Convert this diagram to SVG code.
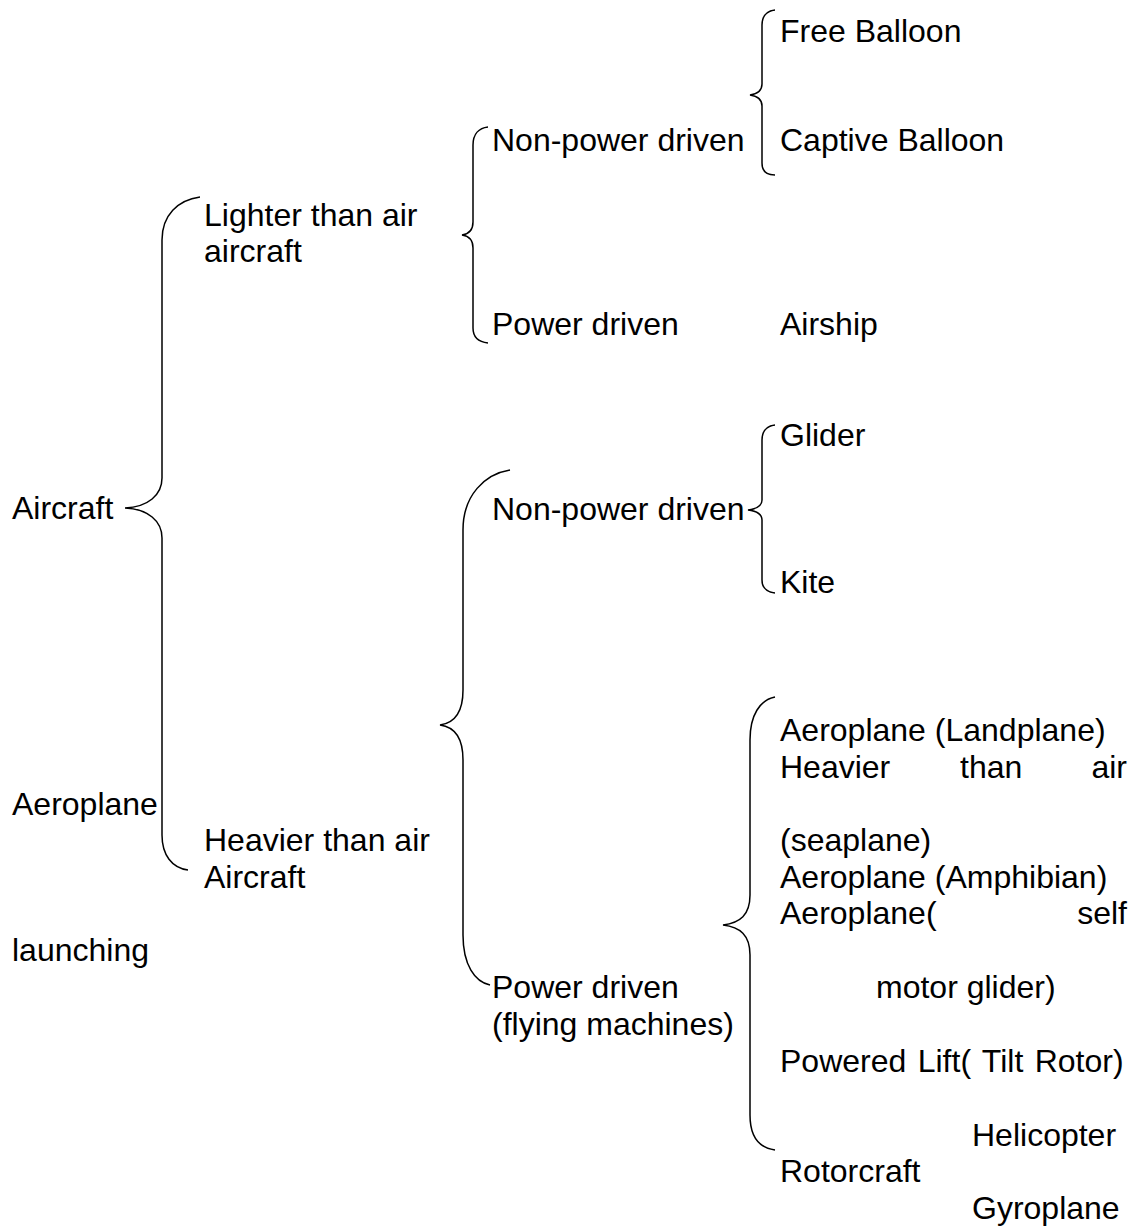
<svg xmlns="http://www.w3.org/2000/svg" width="1139" height="1229" viewBox="0 0 1139 1229">
<style>
text{font-family:"Liberation Sans",Arial,sans-serif;font-size:32px;fill:#000}
.b{fill:none;stroke:#000;stroke-width:1.5}
</style>
<rect width="1139" height="1229" fill="#fff"/>
<g id="connectors">
<path class="b" d="M200,197 C178,200 162,215 162,240 L162,478 C162,495 148,507 125,508 C148,509 162,521 162,538 L162,835 C162,855 172,868 188,870"/>
<path class="b" d="M488,127 C479,128 473,134 473,145 L473,222 C473,230 469,234 462,235 C469,236 473,240 473,248 L473,328 C473,337 479,342 488,343"/>
<path class="b" d="M775,10 C767,11 762,16 762,25 L762,84 C762,91 757,94 750,95 C757,96 762,99 762,106 L762,163 C762,171 767,175 775,175"/>
<path class="b" d="M510,470 C485,474 463,495 463,530 L463,690 C463,712 455,723 440,725 C455,727 463,738 463,760 L463,935 C463,965 475,982 490,985"/>
<path class="b" d="M775,425 C767,426 762,431 762,440 L762,500 C762,506 756,509 748,510 C756,511 762,514 762,520 L762,580 C762,588 767,592 775,593"/>
<path class="b" d="M775,697 C760,700 750,715 750,740 L750,895 C750,915 740,923 723,925 C740,927 750,935 750,955 L750,1115 C750,1138 760,1148 775,1150"/>
</g>
<g id="n-aircraft"><text x="12" y="519">Aircraft</text></g>
<g id="n-aeroplane"><text x="12" y="815">Aeroplane</text></g>
<g id="n-launching"><text x="12" y="961">launching</text></g>
<g id="n-lighter"><text x="204" y="226">Lighter than air</text><text x="204" y="262">aircraft</text></g>
<g id="n-heavier"><text x="204" y="851">Heavier than air</text><text x="204" y="888">Aircraft</text></g>
<g id="n-npd1"><text x="492" y="151">Non-power driven</text></g>
<g id="n-pd1"><text x="492" y="335">Power driven</text></g>
<g id="n-npd2"><text x="492" y="520">Non-power driven</text></g>
<g id="n-pd2"><text x="492" y="998">Power driven</text><text x="492" y="1035">(flying machines)</text></g>
<g id="n-free"><text x="780" y="42">Free Balloon</text></g>
<g id="n-captive"><text x="780" y="151">Captive Balloon</text></g>
<g id="n-airship"><text x="780" y="335">Airship</text></g>
<g id="n-glider"><text x="780" y="446">Glider</text></g>
<g id="n-kite"><text x="780" y="593">Kite</text></g>
<g id="n-powered">
<text x="780" y="741">Aeroplane (Landplane)</text>
<text x="780" y="778">Heavier</text><text x="960" y="778">than</text><text x="1127" y="778" text-anchor="end">air</text>
<text x="780" y="851">(seaplane)</text>
<text x="780" y="888">Aeroplane (Amphibian)</text>
<text x="780" y="924">Aeroplane(</text><text x="1127" y="924" text-anchor="end">self</text>
<text x="876" y="998">motor glider)</text>
<text x="780" y="1072" word-spacing="2.5">Powered Lift( Tilt Rotor)</text>
<text x="972" y="1146">Helicopter</text>
<text x="780" y="1182">Rotorcraft</text>
<text x="972" y="1219">Gyroplane</text>
</g>
</svg>
